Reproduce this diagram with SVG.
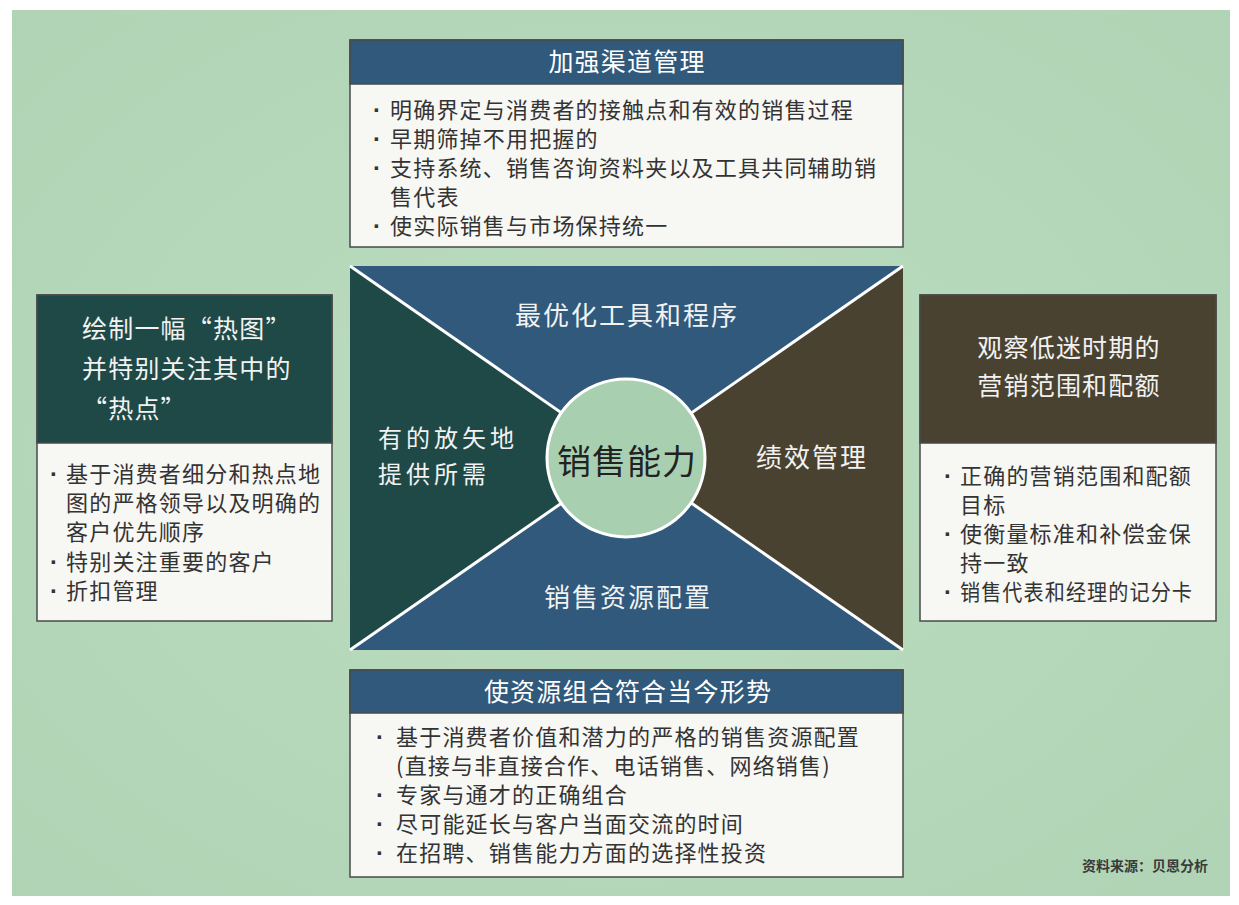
<svg xmlns="http://www.w3.org/2000/svg" width="1239" height="905" viewBox="0 0 1239 905">
<style>
text{font-family:"Noto Sans CJK SC","Noto Sans",sans-serif;}
.box{stroke:#4a4a4a;stroke-width:1.5;}
.body{fill:#f7f7f4;}
.hdr{fill:#fff;font-size:25px;letter-spacing:1.2px;}
.b{fill:#333;font-size:22px;letter-spacing:1.2px;}
.dot{fill:#333;font-family:"Liberation Sans",sans-serif;font-size:24px;font-weight:bold;}
.q{fill:#f2f2f2;font-size:25px;letter-spacing:1.2px;}
.c{fill:#f2f2f2;font-size:26px;letter-spacing:2px;}
.c2{fill:#f2f2f2;font-size:24px;letter-spacing:4px;}
.blue{fill:#30597b;}
</style>
<defs>
<radialGradient id="bg" cx="50%" cy="50%" r="75%">
<stop offset="0" stop-color="#bcdcc0"/>
<stop offset="1" stop-color="#afd3b4"/>
</radialGradient>
</defs>
<rect width="1239" height="905" fill="#ffffff"/>
<rect x="12" y="10" width="1218" height="886" fill="url(#bg)"/>

<g id="top-box">
<rect class="box body" x="350" y="40" width="553" height="207"/>
<rect class="box blue" x="350" y="40" width="553" height="44"/>
<text class="hdr" x="627" y="71" text-anchor="middle">加强渠道管理</text>
<text class="dot" x="373" y="118">·</text>
<text class="b" x="390" y="118">明确界定与消费者的接触点和有效的销售过程</text>
<text class="dot" x="373" y="147">·</text>
<text class="b" x="390" y="147">早期筛掉不用把握的</text>
<text class="dot" x="373" y="176">·</text>
<text class="b" x="390" y="176">支持系统、销售咨询资料夹以及工具共同辅助销</text>
<text class="b" x="390" y="205">售代表</text>
<text class="dot" x="373" y="234">·</text>
<text class="b" x="390" y="234">使实际销售与市场保持统一</text>
</g>

<g id="left-box">
<rect class="box body" x="37" y="295" width="295" height="326"/>
<rect class="box" fill="#1f4946" x="37" y="295" width="295" height="148"/>
<text class="q" x="82" y="338">绘制一幅“热图”</text>
<text class="q" x="82" y="378">并特别关注其中的</text>
<text class="q" x="82" y="418">“热点”</text>
<text class="dot" x="50" y="482">·</text>
<text class="b" x="66" y="482">基于消费者细分和热点地</text>
<text class="b" x="66" y="511">图的严格领导以及明确的</text>
<text class="b" x="66" y="540">客户优先顺序</text>
<text class="dot" x="50" y="570">·</text>
<text class="b" x="66" y="570">特别关注重要的客户</text>
<text class="dot" x="50" y="599">·</text>
<text class="b" x="66" y="599">折扣管理</text>
</g>

<g id="right-box">
<rect class="box body" x="920" y="295" width="296" height="326"/>
<rect class="box" fill="#4a4231" x="920" y="295" width="296" height="148"/>
<text class="q" x="1069" y="357" text-anchor="middle">观察低迷时期的</text>
<text class="q" x="1069" y="395" text-anchor="middle">营销范围和配额</text>
<text class="dot" x="944" y="484">·</text>
<text class="b" x="960" y="484">正确的营销范围和配额</text>
<text class="b" x="960" y="513">目标</text>
<text class="dot" x="944" y="542">·</text>
<text class="b" x="960" y="542">使衡量标准和补偿金保</text>
<text class="b" x="960" y="571">持一致</text>
<text class="dot" x="944" y="600">·</text>
<text class="b" x="960" y="600" textLength="233" lengthAdjust="spacingAndGlyphs">销售代表和经理的记分卡</text>
</g>

<g id="center">
<rect x="350" y="266" width="553" height="384" fill="#30597b"/>
<polygon points="350,266 626.5,458 350,650" fill="#1f4946"/>
<polygon points="903,266 626.5,458 903,650" fill="#4a4231"/>
<line x1="350" y1="266" x2="903" y2="650" stroke="#fff" stroke-width="3"/>
<line x1="903" y1="266" x2="350" y2="650" stroke="#fff" stroke-width="3"/>
<circle cx="626" cy="458" r="79" fill="#a9cfb1" stroke="#fff" stroke-width="3"/>
<text class="c" x="627" y="325" text-anchor="middle">最优化工具和程序</text>
<text class="c2" x="378" y="447">有的放矢地</text>
<text class="c2" x="378" y="483">提供所需</text>
<text class="c" x="812" y="467" text-anchor="middle">绩效管理</text>
<text class="c" x="628" y="607" text-anchor="middle">销售资源配置</text>
<text x="627" y="474" text-anchor="middle" font-size="34" fill="#222" letter-spacing="1">销售能力</text>
</g>

<g id="bottom-box">
<rect class="box body" x="350" y="670" width="553" height="207"/>
<rect class="box blue" x="350" y="670" width="553" height="43"/>
<text class="hdr" x="628" y="701" text-anchor="middle">使资源组合符合当今形势</text>
<text class="dot" x="376" y="745">·</text>
<text class="b" x="396" y="745">基于消费者价值和潜力的严格的销售资源配置</text>
<text class="b" x="396" y="774">(直接与非直接合作、电话销售、网络销售)</text>
<text class="dot" x="376" y="803">·</text>
<text class="b" x="396" y="803">专家与通才的正确组合</text>
<text class="dot" x="376" y="832">·</text>
<text class="b" x="396" y="832">尽可能延长与客户当面交流的时间</text>
<text class="dot" x="376" y="861">·</text>
<text class="b" x="396" y="861">在招聘、销售能力方面的选择性投资</text>
</g>

<g id="connectors"></g>

<text x="1208" y="871" text-anchor="end" font-size="14" font-weight="bold" fill="#3a3a3a">资料来源：贝恩分析</text>
</svg>
